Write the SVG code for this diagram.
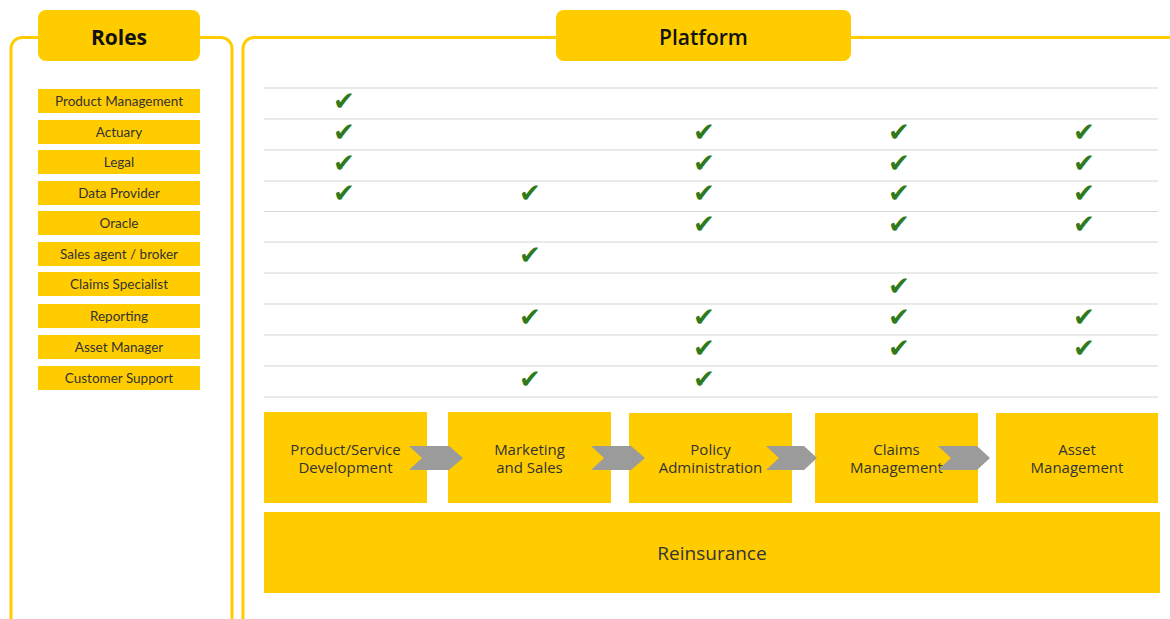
<svg xmlns="http://www.w3.org/2000/svg" width="1170" height="619" viewBox="0 0 1170 619">
<style>
.frame{fill:none;stroke:#FFCC00;stroke-width:3}
.hdr{fill:#FFCC00}
.hdrt{font-family:"Open Sans","Liberation Sans",sans-serif;fill:#111;text-anchor:middle}
.role{fill:#FFCC00}
.rolet{font-family:Lato,"Liberation Sans",sans-serif;font-size:13.5px;fill:#333;text-anchor:middle}
.grid{stroke:#d6d6d6;stroke-width:1.2}
.chk{font-family:"DejaVu Sans",sans-serif;font-size:26px;fill:#2e7a1c;text-anchor:middle}
.proc{fill:#FFCC00}
.proct{font-family:"Open Sans","Liberation Sans",sans-serif;font-size:15px;fill:#333;text-anchor:middle}
.big{font-family:"Open Sans","Liberation Sans",sans-serif;font-size:19px;fill:#333;text-anchor:middle}
.chev{fill:#9b9b9b}
</style>
<g id="roles-frame">
<rect class="frame" x="11" y="37.5" width="221" height="600" rx="11"/>
<rect class="hdr" x="38" y="10" width="162" height="51" rx="8"/>
<text class="hdrt" x="119" y="45" font-weight="bold" style="font-size:21px">Roles</text>
</g>
<g id="platform-frame">
<rect class="frame" x="243" y="37.5" width="960" height="600" rx="11"/>
<rect class="hdr" x="556" y="10" width="295" height="51" rx="8"/>
<text class="hdrt" x="703.5" y="45" font-weight="600" style="font-size:21px">Platform</text>
</g>
<g id="grid">
<line class="grid" x1="264" y1="88" x2="1158" y2="88"/>
<line class="grid" x1="264" y1="119" x2="1158" y2="119"/>
<line class="grid" x1="264" y1="150" x2="1158" y2="150"/>
<line class="grid" x1="264" y1="181" x2="1158" y2="181"/>
<line class="grid" x1="264" y1="211.5" x2="1158" y2="211.5"/>
<line class="grid" x1="264" y1="242" x2="1158" y2="242"/>
<line class="grid" x1="264" y1="273" x2="1158" y2="273"/>
<line class="grid" x1="264" y1="304" x2="1158" y2="304"/>
<line class="grid" x1="264" y1="335" x2="1158" y2="335"/>
<line class="grid" x1="264" y1="366" x2="1158" y2="366"/>
<line class="grid" x1="264" y1="397" x2="1158" y2="397"/>
</g>
<g id="role-product-management"><rect class="role" x="38" y="89" width="162" height="24"/><text class="rolet" x="119" y="106">Product Management</text></g>
<g id="role-actuary"><rect class="role" x="38" y="120" width="162" height="24"/><text class="rolet" x="119" y="137">Actuary</text></g>
<g id="role-legal"><rect class="role" x="38" y="150" width="162" height="24"/><text class="rolet" x="119" y="167">Legal</text></g>
<g id="role-data-provider"><rect class="role" x="38" y="181" width="162" height="24"/><text class="rolet" x="119" y="198">Data Provider</text></g>
<g id="role-oracle"><rect class="role" x="38" y="211" width="162" height="24"/><text class="rolet" x="119" y="228">Oracle</text></g>
<g id="role-sales-agent"><rect class="role" x="38" y="242" width="162" height="24"/><text class="rolet" x="119" y="259">Sales agent / broker</text></g>
<g id="role-claims-specialist"><rect class="role" x="38" y="272" width="162" height="24"/><text class="rolet" x="119" y="289">Claims Specialist</text></g>
<g id="role-reporting"><rect class="role" x="38" y="304" width="162" height="24"/><text class="rolet" x="119" y="321">Reporting</text></g>
<g id="role-asset-manager"><rect class="role" x="38" y="335" width="162" height="24"/><text class="rolet" x="119" y="352">Asset Manager</text></g>
<g id="role-customer-support"><rect class="role" x="38" y="366" width="162" height="24"/><text class="rolet" x="119" y="383">Customer Support</text></g>
<g id="checks">
<text class="chk" x="344" y="110">✔</text>
<text class="chk" x="344" y="141">✔</text><text class="chk" x="704" y="141">✔</text><text class="chk" x="899" y="141">✔</text><text class="chk" x="1084" y="141">✔</text>
<text class="chk" x="344" y="172">✔</text><text class="chk" x="704" y="172">✔</text><text class="chk" x="899" y="172">✔</text><text class="chk" x="1084" y="172">✔</text>
<text class="chk" x="344" y="202">✔</text><text class="chk" x="530" y="202">✔</text><text class="chk" x="704" y="202">✔</text><text class="chk" x="899" y="202">✔</text><text class="chk" x="1084" y="202">✔</text>
<text class="chk" x="704" y="233">✔</text><text class="chk" x="899" y="233">✔</text><text class="chk" x="1084" y="233">✔</text>
<text class="chk" x="530" y="264">✔</text>
<text class="chk" x="899" y="295">✔</text>
<text class="chk" x="530" y="326">✔</text><text class="chk" x="704" y="326">✔</text><text class="chk" x="899" y="326">✔</text><text class="chk" x="1084" y="326">✔</text>
<text class="chk" x="704" y="357">✔</text><text class="chk" x="899" y="357">✔</text><text class="chk" x="1084" y="357">✔</text>
<text class="chk" x="530" y="388">✔</text><text class="chk" x="704" y="388">✔</text>
</g>
<g id="proc-product-dev"><rect class="proc" x="264" y="412" width="163" height="91"/><text class="proct" x="345.5" y="455">Product/Service</text><text class="proct" x="345.5" y="473">Development</text></g>
<g id="proc-marketing"><rect class="proc" x="448" y="412" width="163" height="91"/><text class="proct" x="529.5" y="455">Marketing</text><text class="proct" x="529.5" y="473">and Sales</text></g>
<g id="proc-policy"><rect class="proc" x="629" y="413" width="163" height="90"/><text class="proct" x="710.5" y="455">Policy</text><text class="proct" x="710.5" y="473">Administration</text></g>
<g id="proc-claims"><rect class="proc" x="815" y="413" width="163" height="90"/><text class="proct" x="896.5" y="455">Claims</text><text class="proct" x="896.5" y="473">Management</text></g>
<g id="proc-asset"><rect class="proc" x="996" y="413" width="162" height="90"/><text class="proct" x="1077" y="455">Asset</text><text class="proct" x="1077" y="473">Management</text></g>
<g id="proc-reinsurance"><rect class="proc" x="264" y="512" width="896" height="81"/><text class="big" x="712" y="560">Reinsurance</text></g>
<g id="connectors">
<polygon class="chev" points="409,446 449,446 463,458 449,470 409,470 422,458"/>
<polygon class="chev" points="591,446 631,446 645,458 631,470 591,470 604,458"/>
<polygon class="chev" points="766,446 804,446 817,458 804,470 766,470 779,458"/>
<polygon class="chev" points="938,446 977,446 990,458 977,470 938,470 951,458"/>
</g>
</svg>
